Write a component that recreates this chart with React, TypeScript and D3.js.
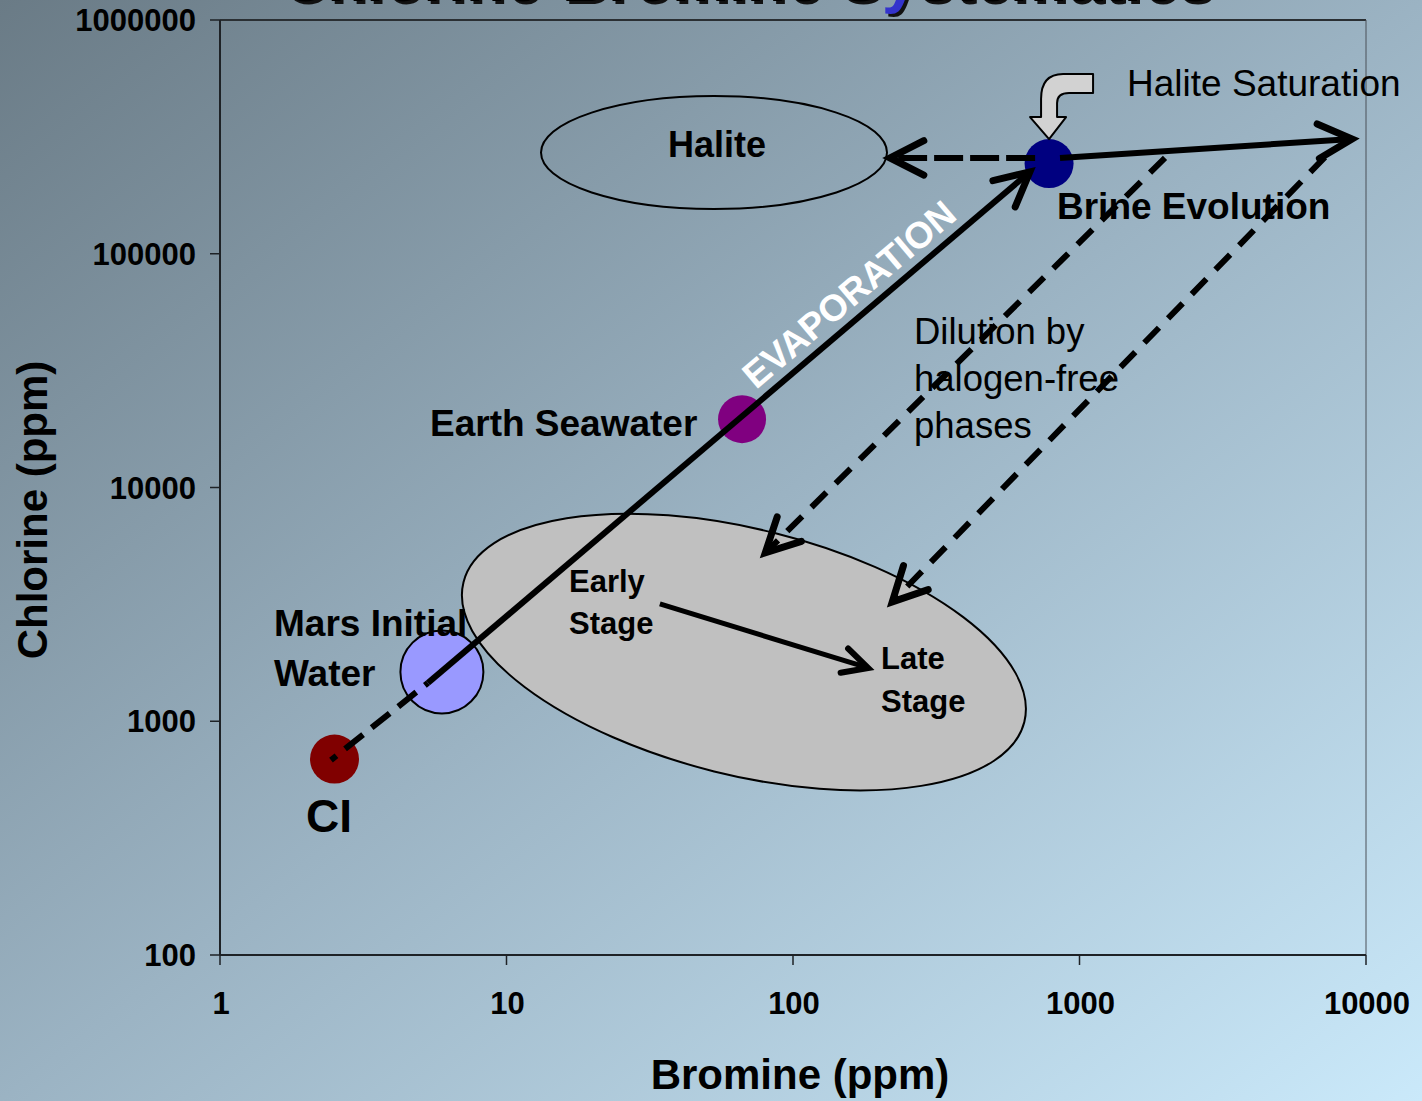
import React from 'react';
import * as d3 from 'd3';

if (typeof document !== 'undefined') {
  document.body.style.margin = '0';
  document.body.style.overflow = 'hidden';
}

const W = 1422;
const H = 1101;
const FONT = '"Liberation Sans", Arial, Helvetica, sans-serif';

// ---- data ----
const xTicks = [1, 10, 100, 1000, 10000];
const yTicks = [100, 1000, 10000, 100000, 1000000];

const samples = [
  { name: 'CI', br: 2.51, cl: 689, r: 24.5, fill: '#800000', outline: false },
  { name: 'Mars Initial Water', br: 5.95, cl: 1625, r: 41.5, fill: '#9999ff', outline: true },
  { name: 'Earth Seawater', br: 66.4, cl: 19600, r: 24, fill: '#800080', outline: false },
  { name: 'Brine Evolution', br: 783, cl: 243000, r: 24.5, fill: '#000080', outline: false },
];

const trends = [
  { id: 'ci-mars', from: [2.44, 682], to: [5.32, 1459], dash: '23 11', offset: 16, head: false, w: 6 },
  { id: 'evaporation', from: [5.32, 1459], to: [671, 224000], dash: null, offset: 0, head: true, w: 6 },
  { id: 'halite-saturation', from: [855, 257000], to: [8940, 309700], dash: null, offset: 0, head: true, w: 6 },
  { id: 'to-halite', from: [700, 256900], to: [218, 256900], dash: '29 7', offset: 0, head: true, w: 6 },
  { id: 'dilution-1', from: [1988, 257000], to: [80, 5250], dash: '21 13', offset: 0, head: true, w: 6 },
  { id: 'dilution-2', from: [7190, 259000], to: [222, 3240], dash: '21 13', offset: 0, head: true, w: 6 },
  { id: 'early-late', from: [34.3, 3180], to: [183, 1690], dash: null, offset: 0, head: true, w: 5 },
];

const fields = [
  { id: 'alteration', br: 67.4, cl: 1977, rx: 289, ry: 123, rot: 14, fill: '#c0c0c0' },
  { id: 'halite', br: 53, cl: 271000, rx: 173, ry: 56.5, rot: 0, fill: 'none' },
];

const xScale = d3.scaleLog().domain([1, 10000]).range([220, 1366]);
const yScale = d3.scaleLog().domain([100, 1000000]).range([955, 20]);

function arrowHead(x1: number, y1: number, x2: number, y2: number, len: number, ang: number) {
  const th = Math.atan2(y1 - y2, x1 - x2);
  const a = (ang * Math.PI) / 180;
  const p = d3.path();
  p.moveTo(x2 + len * Math.cos(th + a), y2 + len * Math.sin(th + a));
  p.lineTo(x2, y2);
  p.lineTo(x2 + len * Math.cos(th - a), y2 + len * Math.sin(th - a));
  return p.toString();
}

export default function App() {
  const evap = trends[1];
  const ex1 = xScale(evap.from[0]), ey1 = yScale(evap.from[1]);
  const ex2 = xScale(evap.to[0]), ey2 = yScale(evap.to[1]);
  const evAng = (Math.atan2(ey2 - ey1, ex2 - ex1) * 180) / Math.PI;
  const t = 0.725;
  const evX = ex1 + (ex2 - ex1) * t;
  const evY = ey1 + (ey2 - ey1) * t;

  const brine = samples[3];
  const tipX = xScale(brine.br);
  const tipY = yScale(brine.cl) - brine.r;
  const bent = `M ${tipX} ${tipY} L ${tipX + 17} ${tipY - 22} L ${tipX + 8} ${tipY - 22} L ${tipX + 8} ${tipY - 36} Q ${tipX + 8} ${tipY - 46} ${tipX + 20} ${tipY - 46} L ${tipX + 44} ${tipY - 46} L ${tipX + 44} ${tipY - 65} L ${tipX + 14} ${tipY - 65} Q ${tipX - 8} ${tipY - 65} ${tipX - 8} ${tipY - 40} L ${tipX - 8} ${tipY - 22} L ${tipX - 19} ${tipY - 22} Z`;

  const txt = (s: string, x: number, y: number, size: number, bold = true, anchor = 'start', fill = '#000') => (
    <text x={x} y={y} fontSize={size} fontWeight={bold ? 'bold' : 'normal'} textAnchor={anchor} fill={fill} fontFamily={FONT}>
      {s}
    </text>
  );

  return (
    <svg width={W} height={H} style={{ display: 'block' }}>
      <defs>
        <linearGradient id="bg" x1="0" y1="0" x2="1" y2="1">
          <stop offset="0" stopColor="#6a7b86" />
          <stop offset="0.5" stopColor="#9bb3c3" />
          <stop offset="1" stopColor="#cae9fa" />
        </linearGradient>
      </defs>
      <rect x={0} y={0} width={W} height={H} fill="url(#bg)" />

      {/* title (cut off at the top, as in the reference) */}
      <text x={281} y={1} fontFamily={FONT} fontSize={64} fontWeight="bold" fill="#000" style={{ textShadow: '3px 3px 0 #111' }}>
        Chlorine-Bromine S<tspan fill="#3333cc">y</tspan>stematics
      </text>

      {/* frame */}
      <line x1={220} y1={20} x2={1366} y2={20} stroke="#2a2f33" strokeWidth={2} />
      <line x1={1366} y1={20} x2={1366} y2={955} stroke="#4a5158" strokeWidth={1} />
      <line x1={220} y1={955} x2={1366} y2={955} stroke="#1e2226" strokeWidth={2} />
      <line x1={220} y1={20} x2={220} y2={955} stroke="#1e2226" strokeWidth={2} />
      {yTicks.map((v) => (
        <g key={'y' + v}>
          <line x1={210} x2={220} y1={yScale(v)} y2={yScale(v)} stroke="#1e2226" strokeWidth={1.5} />
          {txt(String(v), 196, yScale(v) + 11, 31, true, 'end')}
        </g>
      ))}
      {xTicks.map((v) => (
        <g key={'x' + v}>
          <line x1={xScale(v)} x2={xScale(v)} y1={955} y2={965} stroke="#1e2226" strokeWidth={1.5} />
          {txt(String(v), xScale(v) + 1, 1014, 31, true, 'middle')}
        </g>
      ))}
      {txt('Bromine (ppm)', 800, 1089, 42, true, 'middle')}
      <text transform="translate(47,510) rotate(-90)" fontSize={42} fontWeight="bold" textAnchor="middle" fontFamily={FONT}>
        Chlorine (ppm)
      </text>

      {/* fields */}
      {fields.map((f) => (
        <ellipse
          key={f.id}
          cx={0}
          cy={0}
          rx={f.rx}
          ry={f.ry}
          transform={`translate(${xScale(f.br)},${yScale(f.cl)}) rotate(${f.rot})`}
          fill={f.fill}
          stroke="#000"
          strokeWidth={2}
        />
      ))}

      {/* samples */}
      {samples.map((s) => (
        <circle
          key={s.name}
          cx={xScale(s.br)}
          cy={yScale(s.cl)}
          r={s.r}
          fill={s.fill}
          stroke={s.outline ? '#000' : 'none'}
          strokeWidth={2}
        />
      ))}

      {/* trends */}
      {trends.map((tr) => {
        const x1 = xScale(tr.from[0]), y1 = yScale(tr.from[1]);
        const x2 = xScale(tr.to[0]), y2 = yScale(tr.to[1]);
        return (
          <g key={tr.id}>
            <line
              x1={x1}
              y1={y1}
              x2={x2}
              y2={y2}
              stroke="#000"
              strokeWidth={tr.w}
              strokeDasharray={tr.dash || undefined}
              strokeDashoffset={tr.offset || undefined}
            />
            {tr.head && (
              <path
                d={arrowHead(x1, y1, x2, y2, tr.w === 5 ? 28 : 38, 27)}
                fill="none"
                stroke="#000"
                strokeWidth={tr.w + 1}
                strokeLinejoin="miter"
                strokeLinecap="round"
              />
            )}
          </g>
        );
      })}

      {/* bent halite saturation arrow */}
      <path d={bent} fill="#d2d2d2" stroke="#000" strokeWidth={2} strokeLinejoin="round" />

      {/* labels */}
      <text transform={`translate(${evX},${evY}) rotate(${evAng})`} y={-11} fontSize={37} fontWeight="bold" textAnchor="middle" fill="#fff" fontFamily={FONT}>
        EVAPORATION
      </text>
      {txt('Halite', 717, 157, 36, true, 'middle')}
      {txt('Halite Saturation', 1127, 96, 37, false)}
      {txt('Brine Evolution', 1057, 219, 37, true)}
      {txt('Earth Seawater', 430, 436, 37, true)}
      {txt('Mars Initial', 274, 636, 37, true)}
      {txt('Water', 274, 686, 37, true)}
      {txt('CI', 306, 832, 46, true)}
      {txt('Dilution by', 914, 344, 36.5, false)}
      {txt('halogen-free', 914, 391, 36.5, false)}
      {txt('phases', 914, 438, 36.5, false)}
      {txt('Early', 569, 592, 31, true)}
      {txt('Stage', 569, 634, 31, true)}
      {txt('Late', 881, 669, 31, true)}
      {txt('Stage', 881, 712, 31, true)}
    </svg>
  );
}
